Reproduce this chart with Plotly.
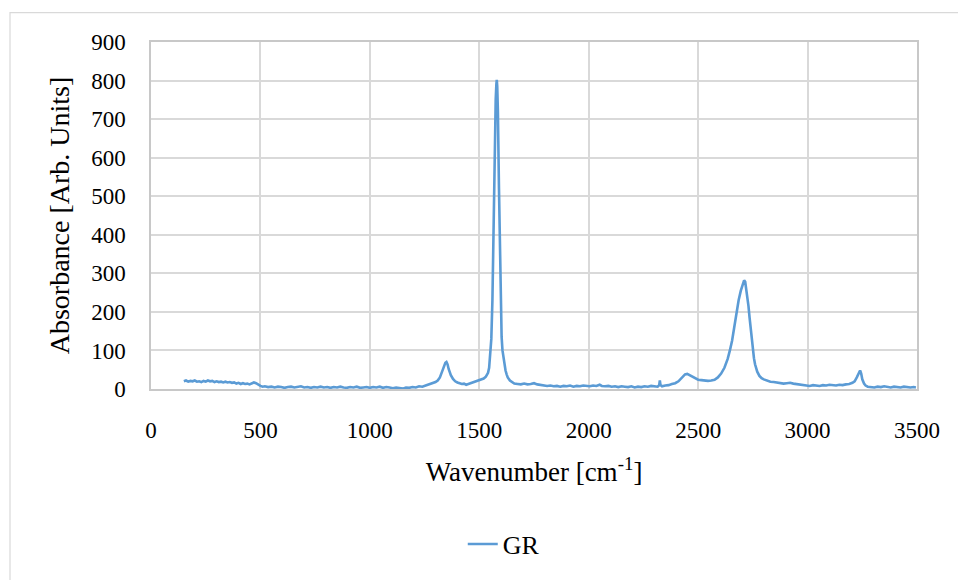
import plotly.graph_objects as go

# Raman-type spectrum
wavenumber = [
    150, 160, 170, 180, 190, 200, 210, 220, 230, 240, 250, 260, 270, 280, 290, 300,
    310, 320, 330, 340, 350, 360, 370, 380, 390, 400, 410, 420, 430, 440, 450, 460,
    470, 480, 490, 500,
    510, 520, 535, 550, 565, 580, 595, 610, 625, 640, 655, 670, 685, 700, 715, 730,
    745, 760, 775, 790, 805, 820, 835, 850, 865, 880, 895, 910, 925, 940, 955, 970,
    985, 1000, 1015, 1030, 1045, 1060, 1075, 1090, 1105, 1120, 1135, 1150, 1165, 1180,
    1195, 1210, 1225, 1240, 1255, 1270, 1285, 1300, 1310, 1320, 1330, 1340, 1345, 1350,
    1355, 1360, 1370, 1380, 1390, 1400, 1410, 1420, 1430, 1440, 1450, 1460, 1470, 1480,
    1490, 1500, 1510, 1520, 1530, 1540, 1545, 1550, 1555, 1560, 1565, 1570, 1575, 1578,
    1580, 1582, 1585, 1590, 1594, 1598, 1602, 1606, 1610, 1615, 1620, 1625, 1630, 1640,
    1650, 1660, 1675, 1690, 1705, 1720, 1735, 1750, 1765, 1780, 1795, 1810, 1825, 1840,
    1855, 1870, 1885, 1900, 1915, 1930, 1945, 1960, 1975, 1990, 2005, 2020, 2035, 2050,
    2060, 2075, 2090, 2105, 2120, 2135, 2150, 2165, 2180, 2195, 2210, 2225, 2240, 2255,
    2270, 2285, 2300, 2315, 2322, 2325, 2328, 2335, 2350, 2365, 2380, 2395, 2410, 2420,
    2430, 2440, 2450, 2460, 2470, 2480, 2490, 2500, 2515, 2530, 2545, 2560, 2575, 2590,
    2605, 2620, 2635, 2645, 2655, 2665, 2675, 2685, 2695, 2700, 2705, 2710, 2715, 2720,
    2725, 2730, 2735, 2740, 2745, 2750, 2755, 2760, 2770, 2780, 2790, 2800, 2815, 2830,
    2845, 2860, 2875, 2890, 2905, 2920, 2935, 2950, 2965, 2980, 2995, 3010, 3025, 3040,
    3055, 3070, 3085, 3100, 3115, 3130, 3145, 3160, 3175, 3190, 3205, 3215, 3225, 3235,
    3240, 3245, 3250, 3258, 3265, 3275, 3290, 3305, 3320, 3335, 3350, 3365, 3380, 3395,
    3410, 3425, 3440, 3455, 3470, 3485, 3495,
]

absorbance = [
    20, 22, 19, 21, 20, 22, 19, 20, 18, 21, 19, 22, 20, 21, 18, 20,
    18, 19, 17, 19, 17, 18, 16, 17, 14, 16, 13, 15, 13, 14, 12, 14,
    17, 15, 11, 8,
    6, 7, 5, 6, 4, 6, 5, 3, 5, 6, 4, 5, 7, 4, 5, 3,
    5, 4, 6, 4, 5, 3, 5, 4, 6, 4, 3, 5, 4, 6, 3, 4,
    5, 3, 5, 4, 6, 3, 5, 4, 2, 4, 3, 1, 4, 3,
    5, 4, 7, 6, 9, 12, 13, 18, 22, 30, 45, 62, 68, 70,
    64, 52, 36, 26, 20, 17, 15, 13, 14, 11, 13, 15, 17, 20,
    21, 22, 25, 27, 32, 42, 55, 85, 130, 230, 420, 620, 750, 790,
    802, 785, 720, 520, 340, 210, 135, 100, 82, 62, 48, 38, 30, 22,
    17, 14, 13, 12, 14, 12, 13, 15, 12, 10, 9, 8, 9, 7,
    8, 6, 8, 7, 9, 6, 8, 7, 9, 8, 7, 9, 8, 11,
    8, 7, 8, 6, 7, 5, 7, 6, 5, 7, 4, 6, 5, 7,
    6, 8, 7, 6, 10, 22, 10, 7, 9, 10, 13, 15, 20, 26,
    33, 38, 39, 36, 32, 28, 26, 24, 23, 22, 21, 22, 24, 30,
    40, 55, 78, 100, 125, 160, 200, 230, 255, 265, 275, 282, 278, 260,
    240, 215, 185, 155, 125, 100, 80, 64, 45, 34, 28, 25, 21, 19,
    18, 17, 16, 14, 15, 16, 14, 13, 11, 10, 9, 8, 10, 9,
    8, 10, 9, 11, 10, 9, 11, 10, 12, 13, 16, 20, 30, 45,
    48, 40, 25, 14, 9, 6, 5, 4, 6, 5, 7, 5, 4, 6,
    5, 4, 6, 5, 4, 5, 4,
]

x_ticks = [0, 500, 1000, 1500, 2000, 2500, 3000, 3500]
y_ticks = [0, 100, 200, 300, 400, 500, 600, 700, 800, 900]

FONT = "Liberation Serif"
GRID = "#d9d9d9"

fig = go.Figure(
    go.Scatter(
        x=wavenumber,
        y=absorbance,
        mode="lines",
        name="GR",
        line=dict(color="#5B9BD5", width=2.6),
    )
)

fig.update_layout(
    width=958,
    height=580,
    margin=dict(l=151, r=41, t=42, b=189),
    paper_bgcolor="white",
    plot_bgcolor="white",
    font=dict(family=FONT, size=23, color="black"),
    showlegend=True,
    legend=dict(
        orientation="h",
        x=0.407,
        xanchor="left",
        y=-0.447,
        yanchor="middle",
        font=dict(family=FONT, size=26, color="black"),
    ),
    xaxis=dict(
        range=[0, 3500],
        tickvals=x_ticks,
        showgrid=True,
        gridcolor=GRID,
        gridwidth=1.5,
        showline=True,
        linecolor="#c8c8c8",
        linewidth=1.5,
        mirror=True,
        ticks="",
        zeroline=False,
        ticklabelstandoff=20,
        title=dict(
            text="Wavenumber [cm<sup>-1</sup>]",
            font=dict(family=FONT, size=27, color="black"),
            standoff=20,
        ),
    ),
    yaxis=dict(
        range=[0, 900],
        tickvals=y_ticks,
        showgrid=True,
        gridcolor=GRID,
        gridwidth=1.5,
        showline=True,
        linecolor="#c8c8c8",
        linewidth=1.5,
        mirror=True,
        ticks="",
        zeroline=False,
        ticklabelstandoff=19,
        title=dict(
            text="Absorbance [Arb. Units]",
            font=dict(family=FONT, size=28, color="black"),
            standoff=13,
        ),
    ),
    shapes=[
        dict(
            type="rect",
            xref="paper",
            yref="paper",
            x0=(10 - 151) / 766,
            x1=(970 - 151) / 766,
            y0=(391 - 600) / 349,
            y1=(391 - 12.5) / 349,
            line=dict(color=GRID, width=1.2),
            fillcolor="rgba(0,0,0,0)",
            layer="below",
        )
    ],
)

fig.write_html("out.html")
